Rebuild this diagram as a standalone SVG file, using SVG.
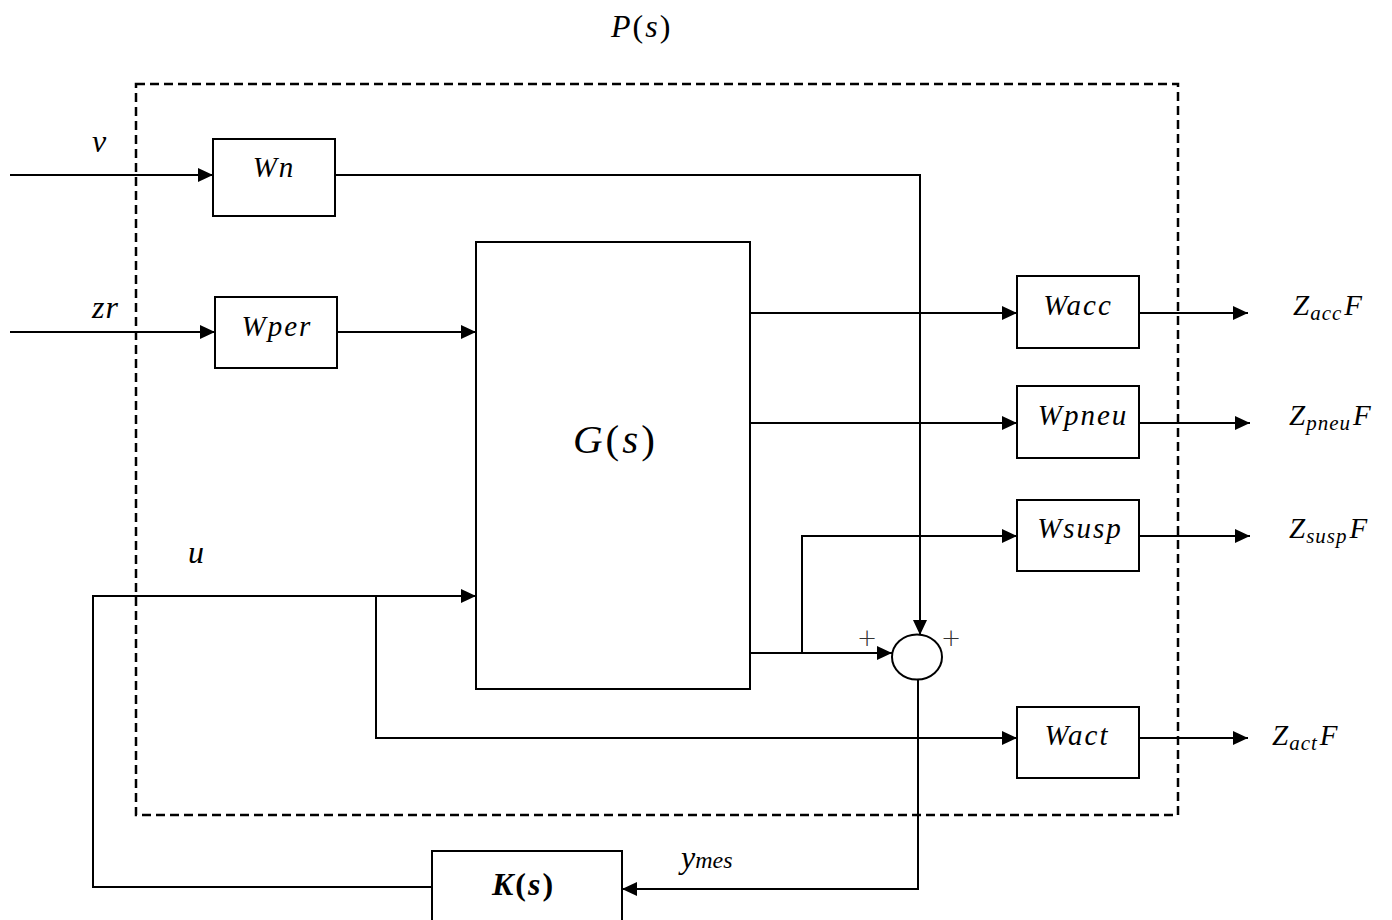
<svg xmlns="http://www.w3.org/2000/svg" width="1392" height="920" viewBox="0 0 1392 920">
<defs>
<marker id="arr" markerUnits="userSpaceOnUse" markerWidth="16" markerHeight="16" refX="15" refY="7" orient="auto">
<path d="M0,0 L15,7 L0,14 Z" fill="#000"/>
</marker>
<style>
.box{fill:#fff;stroke:#000;stroke-width:2}
.ln{fill:none;stroke:#000;stroke-width:2}
.ar{fill:none;stroke:#000;stroke-width:2;marker-end:url(#arr)}
.t{font-family:"Liberation Serif","Times New Roman",serif;font-style:italic;font-size:29px;fill:#000}
.c{text-anchor:middle;letter-spacing:2px}
.up{font-style:normal}
.sub{font-size:21px}
.big{font-size:32px}
.pl{font-family:"DejaVu Sans","Liberation Sans",sans-serif;font-size:24px;font-weight:300;fill:#333}
</style>
</defs>
<rect width="1392" height="920" fill="#fff"/>

<g id="frame">
<rect x="136" y="84" width="1042" height="731" fill="none" stroke="#000" stroke-width="2.5" stroke-dasharray="9 5"/>
<text class="t big" x="611" y="37" letter-spacing="2">P<tspan class="up">(</tspan>s<tspan class="up">)</tspan></text>
</g>

<g id="connectors">
<path class="ar" d="M10,175 H213"/>
<path class="ar" d="M10,332 H215"/>
<path class="ar" d="M337,332 H476"/>
<path class="ar" d="M335,175 H920 V635"/>
<path class="ar" d="M750,313 H1017"/>
<path class="ar" d="M750,423 H1017"/>
<path class="ar" d="M750,653 H892"/>
<path class="ar" d="M802,653 V536 H1017"/>
<path class="ar" d="M432,887 H93 V596 H476"/>
<path class="ar" d="M376,596 V738 H1017"/>
<path class="ar" d="M918,680 V889 H622"/>
<path class="ar" d="M1139,313 H1248"/>
<path class="ar" d="M1139,423 H1250"/>
<path class="ar" d="M1139,536 H1250"/>
<path class="ar" d="M1139,738 H1248"/>
</g>

<g id="node-Wn">
<rect class="box" x="213" y="139" width="122" height="77"/>
<text class="t c" x="274" y="177">Wn</text>
</g>
<g id="node-Wper">
<rect class="box" x="215" y="297" width="122" height="71"/>
<text class="t c" x="277" y="336">Wper</text>
</g>
<g id="node-G">
<rect class="box" x="476" y="242" width="274" height="447"/>
<text class="t" x="573" y="453" letter-spacing="3" style="font-size:41px">G<tspan class="up">(</tspan>s<tspan class="up">)</tspan></text>
</g>
<g id="node-Wacc">
<rect class="box" x="1017" y="276" width="122" height="72"/>
<text class="t c" x="1078" y="315">Wacc</text>
</g>
<g id="node-Wpneu">
<rect class="box" x="1017" y="386" width="122" height="72"/>
<text class="t c" x="1083" y="425">Wpneu</text>
</g>
<g id="node-Wsusp">
<rect class="box" x="1017" y="500" width="122" height="71"/>
<text class="t c" x="1080" y="538">Wsusp</text>
</g>
<g id="node-Wact">
<rect class="box" x="1017" y="707" width="122" height="71"/>
<text class="t c" x="1077" y="745">Wact</text>
</g>
<g id="node-sum">
<ellipse cx="917" cy="657" rx="25" ry="22.5" fill="#fff" stroke="#000" stroke-width="2"/>
<text class="pl" x="857" y="646">+</text>
<text class="pl" x="941" y="646">+</text>
</g>
<g id="node-K">
<rect class="box" x="432" y="851" width="190" height="80"/>
<text class="t big" x="492" y="895" letter-spacing="2" style="font-weight:bold">K<tspan class="up">(</tspan>s<tspan class="up">)</tspan></text>
</g>

<g id="labels">
<text class="t big" x="92" y="152">v</text>
<text class="t big" x="92" y="318" letter-spacing="1">zr</text>
<text class="t big" x="188" y="563">u</text>
<text class="t big" x="681" y="868">y<tspan style="font-size:24px">mes</tspan></text>
<text class="t" x="1293" y="315" letter-spacing="1">Z<tspan class="sub" dy="5">acc</tspan><tspan dy="-5" dx="2">F</tspan></text>
<text class="t" x="1289" y="425" letter-spacing="1">Z<tspan class="sub" dy="5">pneu</tspan><tspan dy="-5" dx="2">F</tspan></text>
<text class="t" x="1289" y="538" letter-spacing="1">Z<tspan class="sub" dy="5">susp</tspan><tspan dy="-5" dx="2">F</tspan></text>
<text class="t" x="1272" y="745" letter-spacing="1">Z<tspan class="sub" dy="5">act</tspan><tspan dy="-5" dx="2">F</tspan></text>
</g>
</svg>
